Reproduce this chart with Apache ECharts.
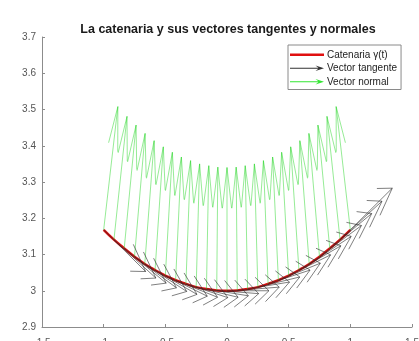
<!DOCTYPE html>
<html>
<head>
<meta charset="utf-8">
<script src="https://cdn.jsdelivr.net/npm/echarts@6/dist/echarts.min.js"></script>
<style>
  html, body { margin: 0; padding: 0; background: #fff; }
  #main { width: 419px; height: 341px; }
</style>
</head>
<body>
<div id="main"></div>
<script>
// puntos de la catenaria
var xs = [-1, -0.9167, -0.8333, -0.75, -0.6667, -0.5833, -0.5, -0.4167, -0.3333, -0.25, -0.1667, -0.0833, 0,
  0.0833, 0.1667, 0.25, 0.3333, 0.4167, 0.5, 0.5833, 0.6667, 0.75, 0.8333, 0.9167, 1]
var ys = [3.168, 3.141, 3.117, 3.094, 3.074, 3.057, 3.042, 3.029, 3.019, 3.010, 3.005, 3.001, 3.000,
  3.001, 3.005, 3.010, 3.019, 3.029, 3.042, 3.057, 3.074, 3.094, 3.117, 3.141, 3.168]

// componentes de los vectores tangentes
var tangentU = [0.34, 0.34, 0.34, 0.34, 0.34, 0.34, 0.34, 0.34, 0.34, 0.34, 0.34, 0.34, 0.34,
  0.34, 0.34, 0.34, 0.34, 0.34, 0.34, 0.34, 0.34, 0.34, 0.34, 0.34, 0.34]
var tangentV = [-0.115, -0.106, -0.096, -0.086, -0.076, -0.067, -0.057, -0.047, -0.038, -0.028, -0.019, -0.009, 0,
  0.009, 0.019, 0.028, 0.038, 0.047, 0.057, 0.067, 0.076, 0.086, 0.096, 0.106, 0.115]

// componentes de los vectores normales
var normalU = [0.115, 0.106, 0.096, 0.086, 0.076, 0.067, 0.057, 0.047, 0.038, 0.028, 0.019, 0.009, 0,
  -0.009, -0.019, -0.028, -0.038, -0.047, -0.057, -0.067, -0.076, -0.086, -0.096, -0.106, -0.115]
var normalV = [0.34, 0.34, 0.34, 0.34, 0.34, 0.34, 0.34, 0.34, 0.34, 0.34, 0.34, 0.34, 0.34,
  0.34, 0.34, 0.34, 0.34, 0.34, 0.34, 0.34, 0.34, 0.34, 0.34, 0.34, 0.34]

var xTicks = [-1.5, -1, -0.5, 0, 0.5, 1, 1.5]
var yTicks = [2.9, 3, 3.1, 3.2, 3.3, 3.4, 3.5, 3.6, 3.7]

var FONT = 'Liberation Sans, Arial, Helvetica, sans-serif'
var HEAD_A = 0.33
var HEAD_B = 0.33

function zip4 (a, b, c, d) {
  return a.map(function (v, i) { return [v, b[i], c[i], d[i]] })
}

// flecha estilo quiver: linea + cabeza abierta
function arrowRenderer (color, width) {
  return function (params, api) {
    var x = api.value(0)
    var y = api.value(1)
    var u = api.value(2)
    var v = api.value(3)
    var tx = x + u
    var ty = y + v
    var p0 = api.coord([x, y])
    var p1 = api.coord([tx, ty])
    var b1 = api.coord([tx - HEAD_A * (u + HEAD_B * v), ty - HEAD_A * (v - HEAD_B * u)])
    var b2 = api.coord([tx - HEAD_A * (u - HEAD_B * v), ty - HEAD_A * (v + HEAD_B * u)])
    return {
      type: 'group',
      children: [{
        type: 'line',
        shape: { x1: p0[0], y1: p0[1], x2: p1[0], y2: p1[1] },
        style: { stroke: color, lineWidth: width }
      }, {
        type: 'polyline',
        shape: { points: [b1, p1, b2] },
        style: { stroke: color, lineWidth: width, fill: null }
      }]
    }
  }
}

// iconos de la leyenda (la caja de 36x6 se ajusta con las tiras casi invisibles)
var arrowIcon = 'path://M0,2.6 L30,2.6 L27,0 L36,3 L27,6 L30,3.4 L0,3.4 Z'
var lineIcon = 'path://M0,0 L36,0 L36,0.01 L0,0.01 Z M0,1.7 L36,1.7 L36,4.3 L0,4.3 Z M0,5.99 L36,5.99 L36,6 L0,6 Z'

var myChart = echarts.init(document.getElementById('main'), null, { renderer: 'canvas' })

myChart.setOption({
  animation: false,
  textStyle: { fontFamily: FONT },
  title: {
    text: 'La catenaria y sus vectores tangentes y normales',
    left: 223,
    textAlign: 'center',
    top: 18,
    textStyle: { fontSize: 12.5, fontWeight: 'bold', color: '#1a1a1a', fontFamily: FONT }
  },
  legend: {
    orient: 'vertical',
    left: 288,
    top: 45,
    itemWidth: 34,
    itemHeight: 6,
    itemGap: 2,
    padding: [4, 4, 2, 2],
    backgroundColor: '#fff',
    borderColor: '#8a8a8a',
    borderWidth: 1,
    borderRadius: 0,
    textStyle: { fontSize: 10, lineHeight: 11.5, color: '#222', padding: [0, 0, 0, -2], fontFamily: FONT },
    data: [
      { name: 'Catenaria γ(t)', icon: lineIcon, itemStyle: { color: '#e01010' } },
      { name: 'Vector tangente', icon: arrowIcon, itemStyle: { color: '#333' } },
      { name: 'Vector normal', icon: arrowIcon, itemStyle: { color: '#33e633' } }
    ]
  },
  grid: {
    left: 42,
    right: 7,
    top: 37,
    bottom: 14,
    containLabel: false,
    outerBoundsMode: 'none'
  },
  xAxis: {
    type: 'value',
    min: xTicks[0],
    max: xTicks[xTicks.length - 1],
    interval: 0.5,
    axisLine: { onZero: false, lineStyle: { color: '#8c8c8c', width: 1 } },
    axisTick: { inside: true, length: 3, lineStyle: { color: '#8c8c8c' } },
    axisLabel: { margin: 11, fontSize: 10, color: '#555', fontFamily: FONT },
    splitLine: { show: false }
  },
  yAxis: {
    type: 'value',
    min: yTicks[0],
    max: yTicks[yTicks.length - 1],
    interval: 0.1,
    axisLine: { show: true, onZero: false, lineStyle: { color: '#8c8c8c', width: 1 } },
    axisTick: { show: true, inside: true, length: 3, lineStyle: { color: '#8c8c8c' } },
    axisLabel: { margin: 6, fontSize: 10, color: '#555', fontFamily: FONT },
    splitLine: { show: false }
  },
  series: [{
    name: 'Catenaria γ(t)',
    type: 'line',
    data: xs.map(function (x, i) { return [x, ys[i]] }),
    smooth: true,
    symbol: 'none',
    z: 1,
    lineStyle: { color: '#d81010', width: 2.5 },
    itemStyle: { color: '#d81010' }
  }, {
    name: 'Vector tangente',
    type: 'custom',
    z: 3,
    renderItem: arrowRenderer('rgba(40,40,40,0.75)', 0.8),
    itemStyle: { color: '#333' },
    encode: { x: 0, y: 1 },
    data: zip4(xs, ys, tangentU, tangentV)
  }, {
    name: 'Vector normal',
    type: 'custom',
    z: 2,
    renderItem: arrowRenderer('rgba(40,215,40,0.55)', 0.9),
    itemStyle: { color: '#33e633' },
    encode: { x: 0, y: 1 },
    data: zip4(xs, ys, normalU, normalV)
  }]
})
</script>
</body>
</html>
